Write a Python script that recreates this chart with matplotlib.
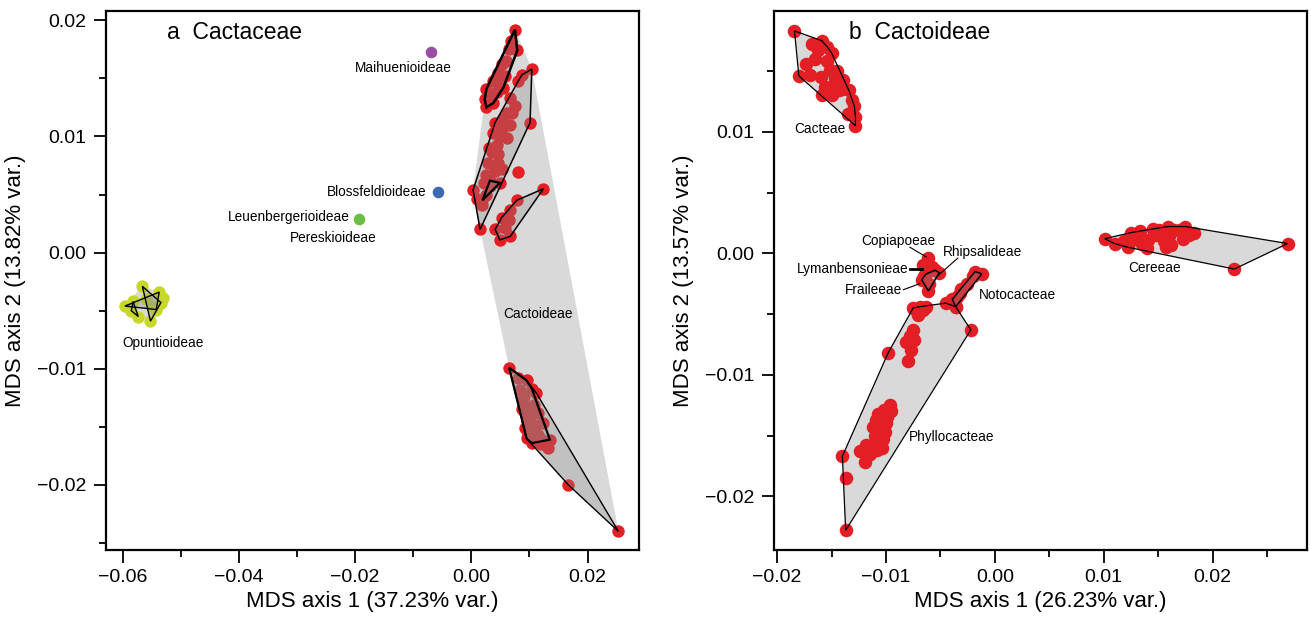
import numpy as np
import matplotlib
matplotlib.use('Agg')
import matplotlib.pyplot as plt
from matplotlib.patches import Polygon
from matplotlib.ticker import MultipleLocator, FuncFormatter

plt.rcParams['font.family'] = ['Liberation Sans', 'DejaVu Sans']

RED = '#E31E24'
LIGHT = '#D9D9D9'

# ---- panel a: Cactaceae ----
# Cactoideae tribes as seen in panel a
a_top_x = [0.0075, 0.0069, 0.0079, 0.0052, 0.0046, 0.0038, 0.0026, 0.0023, 0.0026, 0.0044, 0.0058, 0.0055,
           0.0038, 0.0060, 0.0050, 0.0030, 0.0065, 0.0042]
a_top_y = [0.0192, 0.0182, 0.0174, 0.0162, 0.0155, 0.0148, 0.0141, 0.0132, 0.0125, 0.0138, 0.0152, 0.0142,
           0.0129, 0.0165, 0.0145, 0.0135, 0.0175, 0.0150]
a_long_x = [0.0104, 0.0087, 0.0081, 0.0101, 0.0066, 0.0075, 0.0061, 0.0041, 0.0055, 0.0066, 0.0038, 0.0061,
            0.0044, 0.0035, 0.0029, 0.0046, 0.0052, 0.0026, 0.0021, 0.0003, 0.0009, 0.0018, 0.0015, 0.0032,
            0.0070, 0.0050, 0.0045, 0.0040, 0.0030, 0.0055, 0.0035, 0.0025]
a_long_y = [0.0158, 0.0153, 0.0148, 0.0112, 0.0133, 0.0126, 0.0120, 0.0112, 0.0108, 0.0110, 0.0103, 0.0099,
            0.0093, 0.0087, 0.0077, 0.0077, 0.0072, 0.0067, 0.0060, 0.0054, 0.0046, 0.0041, 0.0020, 0.0057,
            0.0120, 0.0100, 0.0085, 0.0070, 0.0090, 0.0115, 0.0060, 0.0050]
a_small_x = [0.0124, 0.0078, 0.0067, 0.0052, 0.0041, 0.0049, 0.0067, 0.0064, 0.0058]
a_small_y = [0.0055, 0.0045, 0.0037, 0.0030, 0.0020, 0.0011, 0.0014, 0.0028, 0.0021]
a_tri_x = [0.0032, 0.0049, 0.0019]
a_tri_y = [0.0062, 0.0060, 0.0045]
a_lone_x = [0.0081]
a_lone_y = [0.0069]
a_low_x = [0.0065, 0.0095, 0.0104, 0.0084, 0.0089, 0.0107, 0.0087, 0.0115, 0.0095, 0.0124, 0.0092,
           0.0110, 0.0095, 0.0104, 0.0121, 0.0135, 0.0132, 0.0101, 0.0112, 0.0090, 0.0100, 0.0108,
           0.0098, 0.0115, 0.0080, 0.0092, 0.0120]
a_low_y = [-0.0099, -0.0110, -0.0117, -0.0118, -0.0127, -0.0131, -0.0135, -0.0138, -0.0144, -0.0147, -0.0151,
           -0.0153, -0.0160, -0.0164, -0.0161, -0.0161, -0.0168, -0.0141, -0.0121, -0.0123, -0.0135, -0.0148,
           -0.0155, -0.0157, -0.0108, -0.0138, -0.0165]
a_out_x = [0.0167, 0.0253]
a_out_y = [-0.0200, -0.0240]

opun_x = [-0.0566, -0.0537, -0.0530, -0.0534, -0.0596, -0.0585, -0.0573, -0.0552, -0.0542, -0.0582, -0.0560, -0.0550]
opun_y = [-0.0029, -0.0034, -0.0039, -0.0043, -0.0046, -0.0050, -0.0055, -0.0059, -0.0049, -0.0042, -0.0040, -0.0047]

singles = [('Maihuenioideae', -0.0070, 0.0173, '#984EA3'),
           ('Blossfeldioideae', -0.0057, 0.0052, '#3E67B5'),
           ('Leuenbergerioideae', -0.0194, 0.0029, '#6CBD45')]

# ---- panel b: Cactoideae ----
cact_x = [-0.0184, -0.0159, -0.0154, -0.0162, -0.0173, -0.0180, -0.0170, -0.0154, -0.0151, -0.0147, -0.0139,
          -0.0156, -0.0143, -0.0159, -0.0134, -0.0131, -0.0129, -0.0128, -0.0128, -0.0148,
          -0.0165, -0.0150, -0.0145, -0.0160, -0.0140, -0.0135, -0.0150, -0.0168]
cact_y = [0.0183, 0.0175, 0.0170, 0.0167, 0.0156, 0.0146, 0.0147, 0.0158, 0.0151, 0.0144, 0.0143,
          0.0137, 0.0134, 0.0130, 0.0134, 0.0126, 0.0121, 0.0112, 0.0105, 0.0139,
          0.0160, 0.0165, 0.0150, 0.0145, 0.0135, 0.0115, 0.0130, 0.0172]
cere_x = [0.0101, 0.0269, 0.0220, 0.0119, 0.0122, 0.0133, 0.0141, 0.0140, 0.0151, 0.0159, 0.0160, 0.0157,
          0.0170, 0.0175, 0.0183, 0.0173, 0.0129, 0.0148, 0.0125, 0.0135, 0.0145, 0.0155, 0.0165, 0.0178,
          0.0110, 0.0162]
cere_y = [0.0012, 0.0008, -0.0013, 0.0010, 0.0005, 0.0018, 0.0011, 0.0004, 0.0019, 0.0022, 0.0014, 0.0005,
          0.0019, 0.0022, 0.0017, 0.0012, 0.0012, 0.0015, 0.0017, 0.0008, 0.0020, 0.0010, 0.0019, 0.0015,
          0.0008, 0.0007]
copi_x = [-0.0061, -0.0066, -0.0058]
copi_y = [-0.0004, -0.0010, -0.0011]
frai_x = [-0.0065, -0.0055, -0.0051, -0.0061, -0.0067, -0.0060, -0.0063]
frai_y = [-0.0019, -0.0014, -0.0016, -0.0031, -0.0022, -0.0025, -0.0017]
noto_x = [-0.0012, -0.0018, -0.0020, -0.0026, -0.0031, -0.0035, -0.0039, -0.0036, -0.0032]
noto_y = [-0.0017, -0.0015, -0.0019, -0.0025, -0.0029, -0.0036, -0.0038, -0.0044, -0.0033]
phyl_x = [-0.0075, -0.0069, -0.0066, -0.0071, -0.0045, -0.0036, -0.0022, -0.0075, -0.0082, -0.0074, -0.0077,
          -0.0080, -0.0098, -0.0096, -0.0102, -0.0109, -0.0099, -0.0112, -0.0105, -0.0101, -0.0112, -0.0118,
          -0.0124, -0.0104, -0.0119, -0.0140, -0.0137, -0.0137, -0.0100, -0.0107, -0.0095, -0.0110, -0.0103,
          -0.0078, -0.0072, -0.0063, -0.0115, -0.0108]
phyl_y = [-0.0045, -0.0044, -0.0047, -0.0051, -0.0041, -0.0044, -0.0063, -0.0063, -0.0073, -0.0071, -0.0080,
          -0.0089, -0.0082, -0.0125, -0.0129, -0.0137, -0.0135, -0.0143, -0.0145, -0.0147, -0.0159, -0.0158,
          -0.0163, -0.0160, -0.0172, -0.0167, -0.0185, -0.0228, -0.0140, -0.0132, -0.0130, -0.0150, -0.0153,
          -0.0068, -0.0047, -0.0044, -0.0165, -0.0162]


def hull(xs, ys):
    pts = sorted(set(zip(xs, ys)))
    if len(pts) < 3:
        return pts

    def cross(o, a, b):
        return (a[0] - o[0]) * (b[1] - o[1]) - (a[1] - o[1]) * (b[0] - o[0])
    lower, upper = [], []
    for p in pts:
        while len(lower) >= 2 and cross(lower[-2], lower[-1], p) <= 0:
            lower.pop()
        lower.append(p)
    for p in reversed(pts):
        while len(upper) >= 2 and cross(upper[-2], upper[-1], p) <= 0:
            upper.pop()
        upper.append(p)
    return lower[:-1] + upper[:-1]


def fill_hull(ax, xs, ys, fc, alpha=1.0, ec='none', lw=0, z=1):
    ax.add_patch(Polygon(hull(xs, ys), closed=True, fc=fc, alpha=alpha, ec='none', zorder=z))
    if ec != 'none':
        ax.add_patch(Polygon(hull(xs, ys), closed=True, fill=False, ec=ec, lw=lw, zorder=z + 0.1))


minus_fmt = FuncFormatter(lambda v, pos: ('%.2f' % v).replace('-', '\u2212'))


def style(ax, xmaj, ymaj):
    ax.xaxis.set_major_locator(MultipleLocator(xmaj))
    ax.xaxis.set_minor_locator(MultipleLocator(xmaj / 2))
    ax.yaxis.set_major_locator(MultipleLocator(ymaj))
    ax.yaxis.set_minor_locator(MultipleLocator(ymaj / 2))
    ax.xaxis.set_major_formatter(minus_fmt)
    ax.yaxis.set_major_formatter(minus_fmt)
    ax.tick_params(which='major', direction='out', length=9, width=1.3, labelsize=14, pad=5)
    ax.tick_params(which='minor', direction='out', length=5, width=1.3)
    for s in ax.spines.values():
        s.set_linewidth(1.6)


fig = plt.figure(figsize=(13.11, 6.28), dpi=100)
axa = fig.add_axes([0.0809, 0.1242, 0.4066, 0.8583])
axb = fig.add_axes([0.5904, 0.1242, 0.4066, 0.8583])

# panel a
all_x = a_top_x + a_long_x + a_small_x + a_tri_x + a_lone_x + a_low_x + a_out_x
all_y = a_top_y + a_long_y + a_small_y + a_tri_y + a_lone_y + a_low_y + a_out_y
fill_hull(axa, all_x, all_y, LIGHT, z=1)
fill_hull(axa, opun_x, opun_y, LIGHT, z=1)
axa.scatter(all_x, all_y, s=80, c=RED, lw=0, zorder=3)
axa.scatter(opun_x, opun_y, s=80, c='#C8D82A', lw=0, zorder=3)
for name, x, y, col in singles:
    axa.scatter([x], [y], s=70, c=col, lw=0, zorder=3)
for gx, gy, lw in [(a_top_x, a_top_y, 1.8), (a_long_x, a_long_y, 1.1), (a_small_x, a_small_y, 1.1),
                   (a_tri_x, a_tri_y, 1.6), (a_low_x + a_out_x, a_low_y + a_out_y, 1.0),
                   (a_low_x[:16], a_low_y[:16], 1.6)]:
    fill_hull(axa, gx, gy, '#8C8C8C', alpha=0.3, ec='black', lw=lw, z=4)
for idx in [(0, 3, 7), (4, 1, 8), (5, 9, 6)]:
    fill_hull(axa, [opun_x[i] for i in idx], [opun_y[i] for i in idx], '#8C8C8C', alpha=0.3,
              ec='black', lw=1.0, z=4)

fs = 9.8
axa.text(-0.0117, 0.0159, 'Maihuenioideae', fontsize=fs, ha='center', va='center')
axa.text(-0.0077, 0.0052, 'Blossfeldioideae', fontsize=fs, ha='right', va='center')
axa.text(-0.0210, 0.0031, 'Leuenbergerioideae', fontsize=fs, ha='right', va='center')
axa.text(-0.0238, 0.0013, 'Pereskioideae', fontsize=fs, ha='center', va='center')
axa.text(0.0115, -0.0053, 'Cactoideae', fontsize=fs, ha='center', va='center')
axa.text(-0.0531, -0.0078, 'Opuntioideae', fontsize=fs, ha='center', va='center')
axa.text(0.115, 0.96, 'a  Cactaceae', fontsize=16.5, transform=axa.transAxes, ha='left', va='center')

axa.set_xlim(-0.06284, 0.02886)
axa.set_ylim(-0.0256, 0.0208)
style(axa, 0.02, 0.01)
axa.set_xlabel('MDS axis 1 (37.23% var.)', fontsize=16, labelpad=3)
axa.set_ylabel('MDS axis 2 (13.82% var.)', fontsize=16, labelpad=8)

# panel b
for gx, gy in [(cact_x, cact_y), (cere_x, cere_y), (phyl_x, phyl_y)]:
    fill_hull(axb, gx, gy, LIGHT, z=1)
bx = cact_x + cere_x + copi_x + frai_x + noto_x + phyl_x
by = cact_y + cere_y + copi_y + frai_y + noto_y + phyl_y
axb.scatter(bx, by, s=95, c=RED, lw=0, zorder=3)
for gx, gy in [(cact_x, cact_y), (cere_x, cere_y), (phyl_x, phyl_y)]:
    axb.add_patch(Polygon(hull(gx, gy), closed=True, fill=False, ec='black', lw=0.9, zorder=4))
for gx, gy in [(frai_x, frai_y), (noto_x, noto_y)]:
    fill_hull(axb, gx, gy, '#8C8C8C', alpha=0.3, ec='black', lw=1.1, z=4)

axb.text(-0.0161, 0.0102, 'Cacteae', fontsize=fs, ha='center', va='center')
axb.text(0.0147, -0.0012, 'Cereeae', fontsize=fs, ha='center', va='center')
axb.text(-0.0040, -0.0151, 'Phyllocacteae', fontsize=fs, ha='center', va='center')
axb.text(-0.0015, -0.0034, 'Notocacteae', fontsize=fs, ha='left', va='center')
axb.text(-0.0089, 0.0010, 'Copiapoeae', fontsize=fs, ha='center', va='center')
axb.text(-0.0011, 0.0001, 'Rhipsalideae', fontsize=fs, ha='center', va='center')
axb.text(-0.0079, -0.0013, 'Lymanbensonieae', fontsize=fs, ha='right', va='center')
axb.text(-0.0085, -0.0030, 'Fraileeae', fontsize=fs, ha='right', va='center')
axb.plot([-0.0078, -0.0063], [0.0005, -0.0003], color='black', lw=0.8, zorder=5)
axb.plot([-0.0078, -0.0067], [-0.0013, -0.0013], color='black', lw=2.0, zorder=5)
axb.plot([-0.0084, -0.0069], [-0.0030, -0.0025], color='black', lw=0.8, zorder=5)
axb.plot([-0.0034, -0.0053], [-0.0004, -0.0019], color='black', lw=0.8, zorder=5)
axb.text(0.14, 0.96, 'b  Cactoideae', fontsize=16.5, transform=axb.transAxes, ha='left', va='center')

axb.set_xlim(-0.02028, 0.02868)
axb.set_ylim(-0.02442, 0.01994)
style(axb, 0.01, 0.01)
axb.set_xlabel('MDS axis 1 (26.23% var.)', fontsize=16, labelpad=3)
axb.set_ylabel('MDS axis 2 (13.57% var.)', fontsize=16, labelpad=8)

fig.savefig('out.png', dpi=100)
